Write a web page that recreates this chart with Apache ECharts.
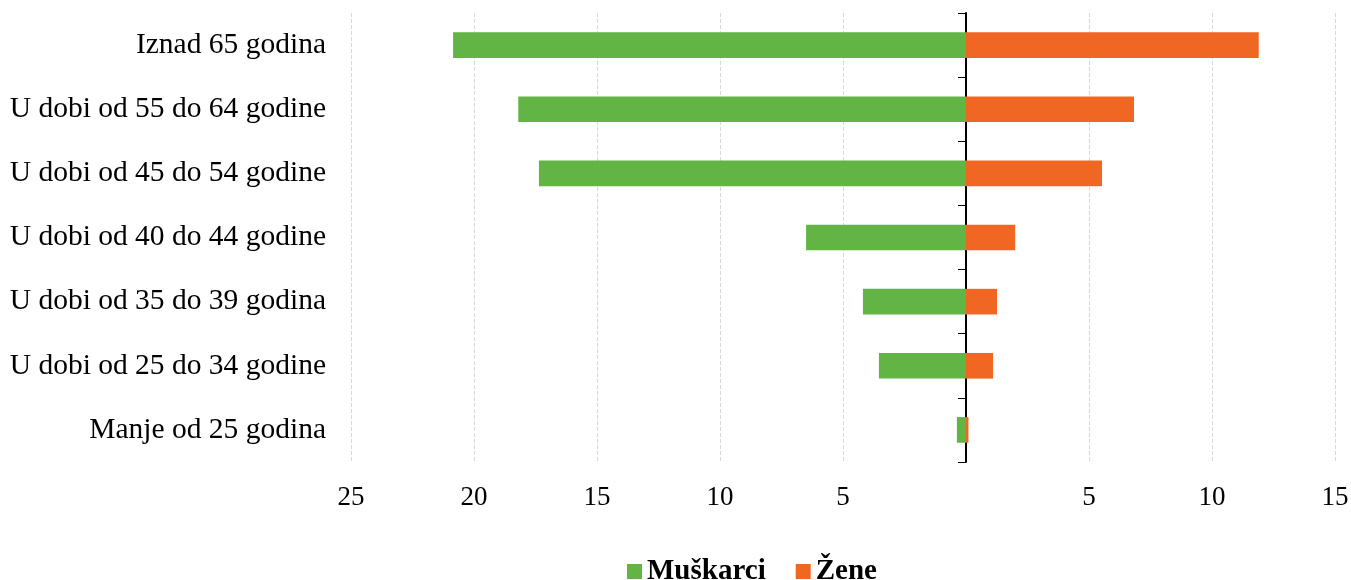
<!DOCTYPE html>
<html>
<head>
<meta charset="utf-8">
<script src="https://cdn.jsdelivr.net/npm/echarts@6/dist/echarts.min.js"></script>
<style>
html, body { margin: 0; padding: 0; background: #fff; }
#chart { width: 1351px; height: 580px; }
</style>
</head>
<body>
<div id="chart"></div>
<script>
var categories = ['Manje od 25 godina', 'U dobi od 25 do 34 godine', 'U dobi od 35 do 39 godina',
    'U dobi od 40 do 44 godine', 'U dobi od 45 do 54 godine', 'U dobi od 55 do 64 godine', 'Iznad 65 godina'];
var muskarci = [0.37, 3.54, 4.19, 6.5, 17.36, 18.2, 20.85];
var zene = [0.1, 1.1, 1.26, 2.0, 5.53, 6.83, 11.9];

(function(){
    var myChart = echarts.init(document.getElementById('chart'));
    var font = '"Liberation Serif", "Times New Roman", serif';

    var option = {
        animation: false,
        textStyle: { fontFamily: font },
        grid: { left: 351, right: 16, top: 13, bottom: 118, containLabel: false, outerBoundsMode: 'none' },
        legend: {
            left: 622,
            top: 552,
            itemWidth: 15,
            itemHeight: 15,
            itemGap: 30,
            icon: 'rect',
            textStyle: { fontFamily: font, fontSize: 29, fontWeight: 'bold', color: '#000' },
            data: ['Muškarci', 'Žene']
        },
        xAxis: {
            type: 'value',
            min: -25,
            max: 15,
            interval: 5,
            axisLine: { show: false },
            axisTick: { show: false },
            axisLabel: {
                margin: 22,
                fontSize: 27,
                color: '#000',
                fontFamily: font,
                formatter: function (v) { return v === 0 ? '' : Math.abs(v); }
            },
            splitLine: { show: true, lineStyle: { color: '#d9d9d9', type: 'dashed', width: 1 } }
        },
        yAxis: [
            {
                type: 'category',
                data: categories,
                axisLine: { show: false, onZero: false },
                axisTick: { show: false },
                axisLabel: { margin: 25, fontSize: 29.5, color: '#000', fontFamily: font }
            },
            {
                type: 'category',
                data: categories,
                position: 'left',
                axisLine: { show: true, onZero: true, lineStyle: { color: '#000', width: 2 } },
                axisTick: { show: true, length: 8, lineStyle: { color: '#000', width: 1 } },
                axisLabel: { show: false }
            }
        ],
        series: [
            {
                name: 'Muškarci',
                type: 'bar',
                stack: 'total',
                barWidth: '40%',
                itemStyle: { color: '#62b445' },
                data: muskarci.map(function (v) { return -v; })
            },
            {
                name: 'Žene',
                type: 'bar',
                stack: 'total',
                barWidth: '40%',
                itemStyle: { color: '#f06623' },
                data: zene
            }
        ]
    };

    myChart.setOption(option);
})();
</script>
</body>
</html>
